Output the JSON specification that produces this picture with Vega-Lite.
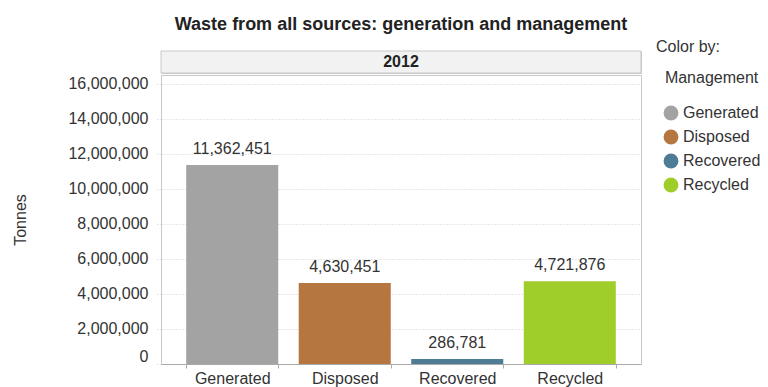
{
  "$schema": "https://vega.github.io/schema/vega-lite/v6.json",
  "padding": {"left": 12, "top": 16, "right": 0, "bottom": 0},
  "background": "white",
  "title": {"text": "Waste from all sources: generation and management", "fontSize": 18, "fontWeight": "bold", "font": "Liberation Sans", "color": "#222222", "anchor": "middle", "frame": "group", "offset": 5},
  "datasets": {
    "waste": [
      {"Year": "2012", "Management": "Generated", "Tonnes": 11362451},
      {"Year": "2012", "Management": "Disposed", "Tonnes": 4630451},
      {"Year": "2012", "Management": "Recovered", "Tonnes": 286781},
      {"Year": "2012", "Management": "Recycled", "Tonnes": 4721876}
    ],
    "years": [{"Year": "2012"}]
  },
  "spacing": 0,
  "resolve": {"scale": {"x": "independent", "y": "independent"}},
  "vconcat": [
    {
      "width": 480,
      "height": 22,
      "data": {"name": "years"},
      "layer": [
        {
          "mark": {"type": "rect", "fill": "#f2f2f2", "stroke": "#c8c8c8", "strokeWidth": 1},
          "encoding": {
            "x": {"field": "Year", "type": "nominal", "axis": null, "scale": {"paddingInner": 0, "paddingOuter": 0}}
          }
        },
        {
          "mark": {"type": "text", "font": "Liberation Sans", "fontSize": 16, "fontWeight": "bold", "color": "#222222", "baseline": "middle"},
          "encoding": {
            "x": {"field": "Year", "type": "nominal", "axis": null, "scale": {"paddingInner": 0, "paddingOuter": 0}},
            "text": {"field": "Year"}
          }
        }
      ]
    },
    {
      "width": 480,
      "height": 289,
      "data": {"name": "waste"},
      "encoding": {
        "x": {
          "field": "Management", "type": "nominal",
          "sort": ["Generated", "Disposed", "Recovered", "Recycled"],
          "scale": {"paddingInner": 0.182, "paddingOuter": 0.224},
          "axis": {"title": null, "labelAngle": 0, "labelFont": "Liberation Sans", "labelFontSize": 16, "labelColor": "#333333", "domainColor": "#aaaaaa", "tickColor": "#aaaaaa", "tickSize": 4, "tickBand": "extent", "labelPadding": 2}
        },
        "y": {
          "field": "Tonnes", "type": "quantitative",
          "scale": {"domain": [0, 16500000], "nice": false},
          "axis": {
            "title": "Tonnes", "titleFont": "Liberation Sans", "titleFontSize": 16, "titleFontWeight": "normal", "titleColor": "#333333", "titlePadding": 39,
            "values": [0, 2000000, 4000000, 6000000, 8000000, 10000000, 12000000, 14000000, 16000000],
            "format": ",d",
            "labelFont": "Liberation Sans", "labelFontSize": 16, "labelColor": "#333333",
            "labelBaseline": {"condition": {"test": "datum.value === 0", "value": "bottom"}, "value": "middle"},
            "domain": false, "tickSize": 6, "tickColor": "#d0d0d0", "tickDash": [1, 2], "labelPadding": 7,
            "grid": true, "gridColor": "#d0d0d0", "gridDash": [1, 2]
          }
        }
      },
      "layer": [
        {
          "mark": {"type": "bar"},
          "encoding": {
            "color": {
              "field": "Management", "type": "nominal",
              "sort": ["Generated", "Disposed", "Recovered", "Recycled"],
              "scale": {"domain": ["Generated", "Disposed", "Recovered", "Recycled"], "range": ["#a3a3a3", "#b5773f", "#4e7b95", "#9fcd2a"]},
              "legend": {
                "orient": "none", "legendX": 495, "legendY": -12,
                "title": ["Color by:", "\u200b\u00a0\u00a0Management"],
                "titleFont": "Liberation Sans", "titleFontSize": 16, "titleFontWeight": "normal", "titleColor": "#333333", "titleLineHeight": 31, "titlePadding": 19,
                "labelFont": "Liberation Sans", "labelFontSize": 16, "labelColor": "#333333",
                "symbolType": "circle", "symbolSize": 220, "symbolStrokeWidth": 0, "symbolOffset": 7, "rowPadding": 8
              }
            }
          }
        },
        {
          "mark": {"type": "text", "font": "Liberation Sans", "fontSize": 16, "color": "#333333", "baseline": "alphabetic", "dy": -11},
          "encoding": {
            "text": {"field": "Tonnes", "type": "quantitative", "format": ",d"}
          }
        }
      ]
    }
  ],
  "config": {
    "view": {"stroke": "#c8c8c8"},
    "axis": {"labelFont": "Liberation Sans"}
  }
}
